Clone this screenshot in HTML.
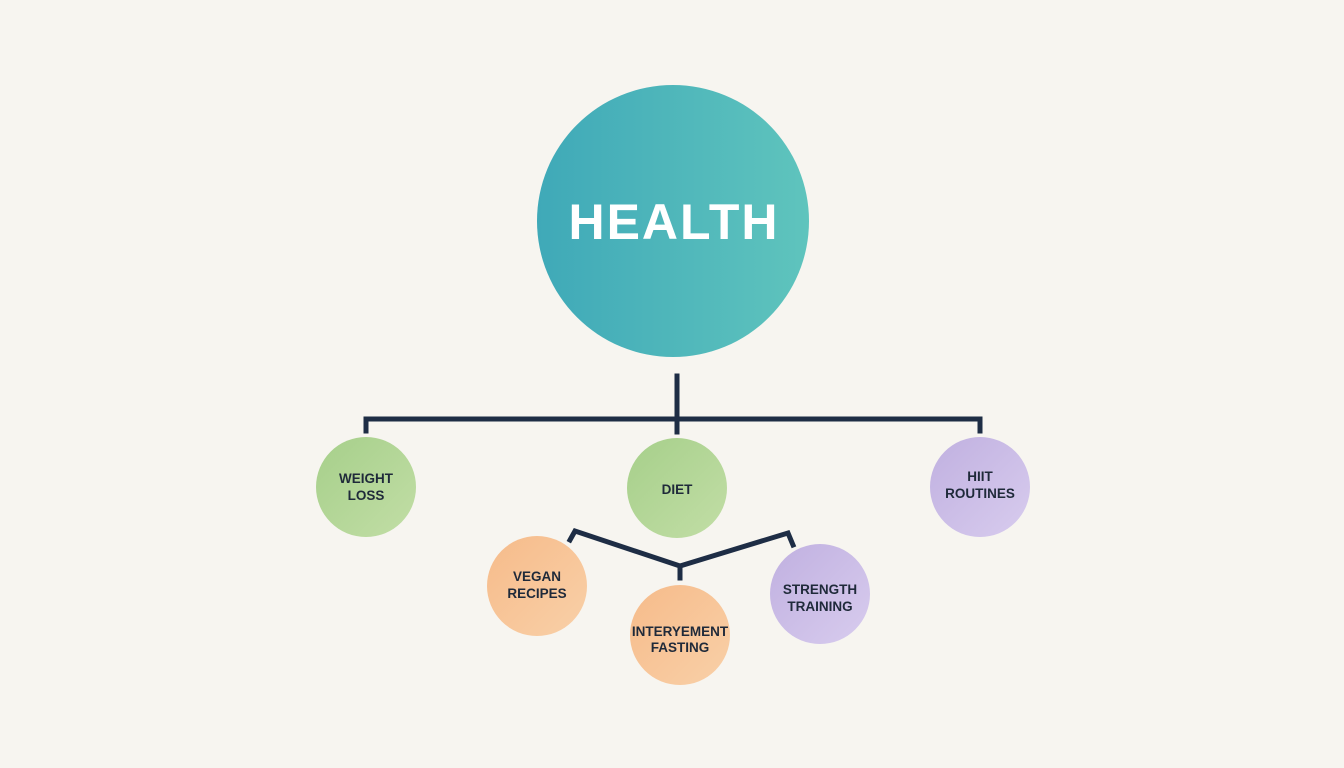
<!DOCTYPE html>
<html><head><meta charset="utf-8"><style>
html,body{margin:0;padding:0;background:#f7f5f0;}
svg{display:block}
text{font-family:"Liberation Sans",sans-serif;font-weight:bold;fill:#1f2a3a;text-anchor:middle}
</style></head><body>
<svg width="1344" height="768" viewBox="0 0 1344 768">
<defs>
<linearGradient id="g1" x1="0" y1="0" x2="1" y2="0"><stop offset="0" stop-color="#3fa9b8"/><stop offset="1" stop-color="#5fc4bd"/></linearGradient>
<linearGradient id="gg" x1="0" y1="0" x2="1" y2="1"><stop offset="0" stop-color="#a6cf8a"/><stop offset="1" stop-color="#c2dea6"/></linearGradient>
<linearGradient id="go" x1="0" y1="0" x2="1" y2="1"><stop offset="0" stop-color="#f6bb8a"/><stop offset="1" stop-color="#f9d0a8"/></linearGradient>
<linearGradient id="gp" x1="0" y1="0" x2="1" y2="1"><stop offset="0" stop-color="#c0b0e0"/><stop offset="1" stop-color="#d8ccee"/></linearGradient>
</defs>
<circle cx="673" cy="221" r="136" fill="url(#g1)"/>
<text x="674" y="239" font-size="50" letter-spacing="2" style="fill:#fff">HEALTH</text>
<g stroke="#1e2d45" stroke-width="5" fill="none" stroke-linecap="square">
<path d="M677 376V432"/>
<path d="M366 431V419H980V431"/>
<path d="M570 540L575 531L680 566L788 533L793 545"/>
<path d="M680 566V578"/>
</g>
<circle cx="366" cy="487" r="50" fill="url(#gg)"/>
<circle cx="677" cy="488" r="50" fill="url(#gg)"/>
<circle cx="980" cy="487" r="50" fill="url(#gp)"/>
<circle cx="537" cy="586" r="50" fill="url(#go)"/>
<circle cx="680" cy="635" r="50" fill="url(#go)"/>
<circle cx="820" cy="594" r="50" fill="url(#gp)"/>
<g font-size="13.5">
<text x="366" y="483">WEIGHT</text><text x="366" y="500">LOSS</text>
<text x="677" y="494">DIET</text>
<text x="980" y="481">HIIT</text><text x="980" y="498">ROUTINES</text>
<text x="537" y="581">VEGAN</text><text x="537" y="598">RECIPES</text>
<text x="680" y="636">INTERYEMENT</text><text x="680" y="652">FASTING</text>
<text x="820" y="594">STRENGTH</text><text x="820" y="611">TRAINING</text>
</g>
</svg>
</body></html>
